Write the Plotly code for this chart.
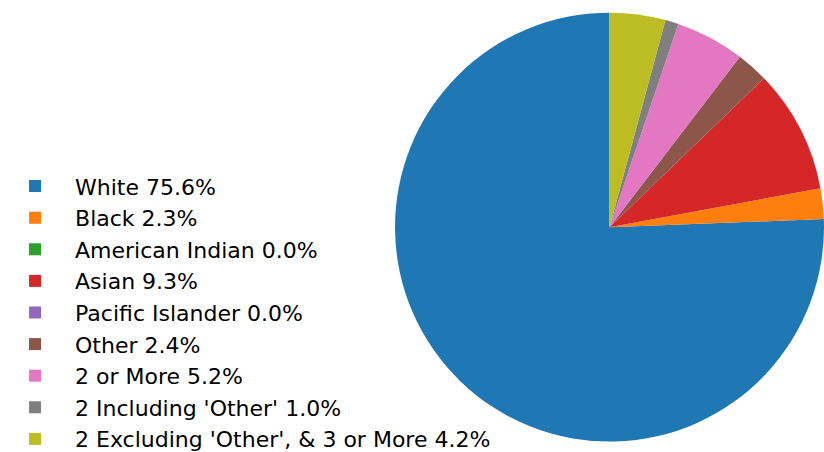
import plotly.graph_objects as go

categories = ["White", "Black", "American Indian", "Asian", "Pacific Islander",
              "Other", "2 or More", "2 Including 'Other'", "2 Excluding 'Other', & 3 or More"]
percentages = [75.6, 2.3, 0.0, 9.3, 0.0, 2.4, 5.2, 1.0, 4.2]
colors = ["#1f77b4", "#ff7f0e", "#2ca02c", "#d62728", "#9467bd",
          "#8c564b", "#e377c2", "#7f7f7f", "#bcbd22"]

labels = [f"{c} {p:.1f}%" for c, p in zip(categories, percentages)]

# Start the first wedge at 12 o'clock and go counterclockwise (like matplotlib startangle=90)
first_angle = 360.0 * percentages[0] / sum(percentages)

fig = go.Figure(go.Pie(
    labels=labels,
    values=percentages,
    marker=dict(colors=colors, line=dict(width=0)),
    sort=False,
    direction="counterclockwise",
    rotation=-first_angle,
    textinfo="none",
    hoverinfo="label",
    domain=dict(x=[0.4794, 1.0], y=[0.013, 0.982]),
))

fig.update_layout(
    width=824, height=452,
    margin=dict(l=0, r=0, t=0, b=0, autoexpand=False),
    paper_bgcolor="white",
    plot_bgcolor="white",
    font=dict(family="DejaVu Sans", size=22, color="#000000"),
    legend=dict(x=-0.006, xanchor="left", y=0.308, yanchor="middle",
                bgcolor="rgba(0,0,0,0)", font=dict(size=22),
                itemwidth=70, traceorder="normal"),
    showlegend=True,
)

fig.write_html("out.html",
               config={"displayModeBar": False},
               post_script="document.body.style.margin='0';document.body.style.overflow='hidden';")
